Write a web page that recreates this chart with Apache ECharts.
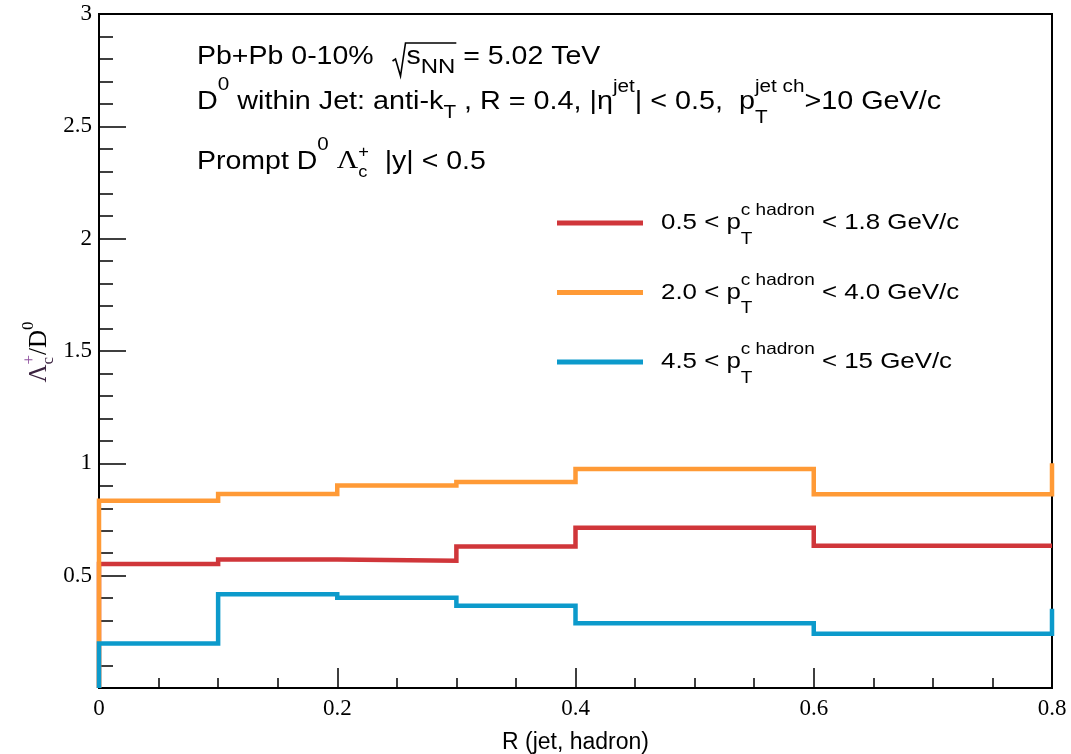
<!DOCTYPE html>
<html>
<head>
<meta charset="utf-8">
<script src="https://cdn.jsdelivr.net/npm/echarts@6/dist/echarts.min.js"></script>
<style>
  html, body { margin: 0; padding: 0; background: #fff; }
  #chart { width: 1071px; height: 754px; }
</style>
</head>
<body>
<div id="chart"></div>
<script>
// Bin edges in R (jet, hadron)
const binEdges = [0, 0.1, 0.2, 0.3, 0.4, 0.6, 0.8];

// Lambda_c+/D0 per bin, one array per charm-hadron pT range
const ratioLowPt  = [0.552, 0.572, 0.566, 0.630, 0.713, 0.633];
const ratioMidPt  = [0.834, 0.864, 0.901, 0.917, 0.975, 0.862];
const ratioHighPt = [0.198, 0.417, 0.402, 0.366, 0.288, 0.241];

// Outline end points (value left of the first edge / right of the last edge)
const underflow = [0, 0, 0];
const overflow  = [0.633, 1.0, 0.353];

const seriesNames  = ['0.5 < pT < 1.8 GeV/c', '2.0 < pT < 4.0 GeV/c', '4.5 < pT < 15 GeV/c'];
const seriesColors = ['#d0363a', '#ff9a36', '#0c9acb'];

// Legend range labels: [lower, upper] of pT^{c hadron}
const legendLow  = ['0.5', '2.0', '4.5'];
const legendHigh = ['1.8', '4.0', '15'];

const SANS  = '"Liberation Sans", Arial, Helvetica, sans-serif';
const SERIF = '"Liberation Serif", "Times New Roman", Times, serif';

// Histogram outline: vertical at each edge, flat across each bin
function outline(values, under, over) {
  const pts = [[binEdges[0], under]];
  values.forEach((v, i) => {
    pts.push([binEdges[i], v]);
    pts.push([binEdges[i + 1], v]);
  });
  pts.push([binEdges[binEdges.length - 1], over]);
  return pts;
}

const measureCtx = document.createElement('canvas').getContext('2d');
function textWidth(t, size, fam) {
  measureCtx.font = size + 'px ' + fam;
  return measureCtx.measureText(t).width;
}

// Lays pieces of text along one baseline (sub/superscripts via dy, stacked via stack:true)
function layoutRun(x0, base, pieces, opts) {
  const sx = opts.sx || 1;
  const els = [];
  const marks = {};
  let x = x0, stackW = 0;
  for (const p of pieces) {
    if (p.mark) marks[p.mark] = x;
    if (p.gap) { x += p.gap; continue; }
    if (p.t === undefined) continue;
    const size = p.size || opts.size;
    const fam = p.fam || opts.fam || SANS;
    const w = textWidth(p.t, size, fam) * sx;
    els.push({
      type: 'text', x: x, y: base + (p.dy || 0) - 0.35 * size, scaleX: sx, silent: true,
      style: {
        text: p.t, font: size + 'px ' + fam, fill: p.fill || opts.fill || '#000',
        textAlign: 'left', textVerticalAlign: 'middle', align: 'left', verticalAlign: 'middle'
      }
    });
    if (p.stack) stackW = Math.max(stackW, w);
    else { x += Math.max(stackW, w); stackW = 0; }
  }
  marks.end = x;
  return { els, marks };
}

const graphics = [];

// Line 1: collision system
const L1base = 66;
const l1 = layoutRun(197, L1base, [
  { t: 'Pb+Pb 0-10%  ' },
  { gap: 3 }, { mark: 'sq', gap: 14 },
  { t: 's' },
  { t: 'NN', size: 21, dy: 9 },
  { mark: 'sqEnd' },
  { t: ' = 5.02 TeV' }
], { size: 25, sx: 1.14 });
graphics.push(...l1.els);
graphics.push({
  type: 'polyline', silent: true,
  shape: { points: [
    [l1.marks.sq, L1base - 5], [l1.marks.sq + 3, L1base - 7],
    [l1.marks.sq + 8, L1base + 10], [l1.marks.sq + 13, L1base - 23],
    [l1.marks.sqEnd + 1, L1base - 23]
  ] },
  style: { stroke: '#000', lineWidth: 1.6, fill: null, lineJoin: 'miter' }
});

// Line 2: jet selection
const l2 = layoutRun(197, 110.7, [
  { t: 'D' }, { t: '0', size: 18, dy: -19 },
  { t: ' within Jet: anti-k' }, { t: 'T', size: 18, dy: 9 },
  { t: ' , R = 0.4, |η' }, { t: 'jet', size: 18, dy: -17 },
  { t: '| < 0.5,  p' },
  { t: 'T', size: 18, dy: 14, stack: true }, { t: 'jet ch', size: 18, dy: -17 },
  { t: '>10 GeV/c' }
], { size: 25, sx: 1.15 });
graphics.push(...l2.els);

// Line 3: hadron selection
const l3 = layoutRun(197, 170.7, [
  { t: 'Prompt D' }, { t: '0', size: 18, dy: -19 },
  { t: ' ' },
  { t: 'Λ', fam: SERIF, size: 26 },
  { t: 'c', size: 16, dy: 7, stack: true }, { t: '+', size: 16, dy: -13 },
  { t: '  |y| < 0.5' }
], { size: 25, sx: 1.14 });
graphics.push(...l3.els);

// Legend
const legendY = [223, 292.5, 362];
legendY.forEach((y, i) => {
  graphics.push({
    type: 'line', silent: true,
    shape: { x1: 557, y1: y, x2: 643, y2: y },
    style: { stroke: seriesColors[i], lineWidth: 5 }
  });
  const r = layoutRun(661, y + 7.7, [
    { t: legendLow[i] + ' < p' },
    { t: 'T', size: 16.5, dy: 14.3, stack: true }, { t: 'c hadron', size: 16.5, dy: -14 },
    { t: ' < ' + legendHigh[i] + ' GeV/c' }
  ], { size: 22.5, sx: 1.15 });
  graphics.push(...r.els);
});

// Y-axis title, rotated to read bottom to top
const yt = [
  { t: 'Λ', fam: SERIF, size: 25, fill: '#3b2340' },
  { t: 'c', fam: SERIF, size: 17, dy: 6, stack: true, fill: '#3b2340' },
  { t: '+', fam: SERIF, size: 17, dy: -13, fill: '#8e4f9e' },
  { t: '/D', fam: SERIF, size: 25 },
  { t: '0', fam: SERIF, size: 17, dy: -14 }
];
const ytProbe = layoutRun(0, 0, yt, { size: 25 });
const ytRun = layoutRun(-ytProbe.marks.end / 2, 0, yt, { size: 25 });
graphics.push({
  type: 'group', x: 48, y: 352, rotation: Math.PI / 2, silent: true,
  children: ytRun.els
});

const seriesData = [
  outline(ratioLowPt, underflow[0], overflow[0]),
  outline(ratioMidPt, underflow[1], overflow[1]),
  outline(ratioHighPt, underflow[2], overflow[2])
];

const chart = echarts.init(document.getElementById('chart'), null, { renderer: 'canvas' });
chart.setOption({
  animation: false,
  backgroundColor: '#fff',
  grid: {
    left: 99, right: 19, top: 14, bottom: 66,
    containLabel: false, outerBoundsMode: 'none',
    show: true, borderColor: '#000', borderWidth: 2, backgroundColor: 'transparent'
  },
  xAxis: {
    type: 'value', min: 0, max: 0.8, interval: 0.2,
    name: 'R (jet, hadron)', nameLocation: 'middle', nameGap: 43,
    nameTextStyle: { fontFamily: SANS, fontSize: 23, color: '#000' },
    axisLine: { show: true, lineStyle: { color: '#000', width: 2 } },
    axisTick: { show: true, inside: true, length: 20, lineStyle: { color: '#000', width: 1.5 } },
    minorTick: { show: true, splitNumber: 4, length: 10, lineStyle: { color: '#000', width: 1.5 } },
    axisLabel: { fontFamily: SERIF, fontSize: 23, color: '#000', margin: 9 },
    splitLine: { show: false }
  },
  yAxis: {
    type: 'value', min: 0, max: 3, interval: 0.5,
    axisLine: { show: true, lineStyle: { color: '#000', width: 2 } },
    axisTick: { show: true, inside: true, length: 27, lineStyle: { color: '#000', width: 1.5 } },
    minorTick: { show: true, splitNumber: 5, length: 14, lineStyle: { color: '#000', width: 1.5 } },
    axisLabel: {
      fontFamily: SERIF, fontSize: 23, color: '#000', margin: 7,
      formatter: v => (v === 0 ? '' : String(v))
    },
    splitLine: { show: false }
  },
  series: seriesData.map((d, i) => ({
    name: seriesNames[i],
    type: 'line',
    data: d,
    showSymbol: false,
    clip: false,
    lineStyle: { color: seriesColors[i], width: 4.5, join: 'miter', cap: 'butt' },
    itemStyle: { color: seriesColors[i] },
    z: 3 + i
  })),
  graphic: graphics
});
</script>
</body>
</html>
